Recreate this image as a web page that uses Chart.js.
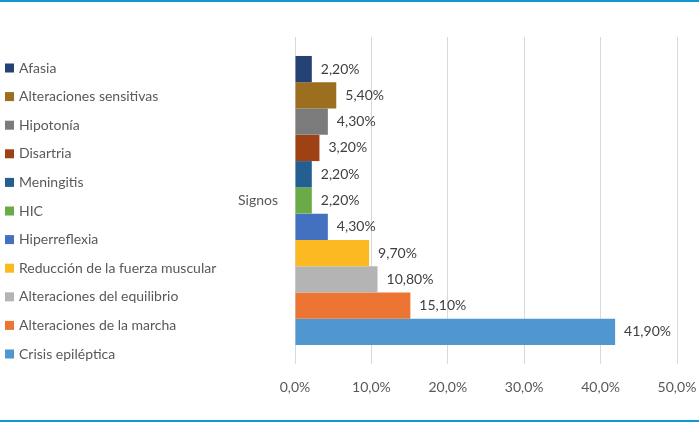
<!DOCTYPE html>
<html>
<head>
<meta charset="utf-8">
<script src="https://cdn.jsdelivr.net/npm/chart.js@4/dist/chart.umd.min.js"></script>
<style>
    html, body { margin: 0; padding: 0; background: #fff; }
    #wrap { position: relative; width: 699px; height: 423px; }
    #wrap::before, #wrap::after {
        content: ""; position: absolute; left: 0; right: 0; height: 2px; background: #1198d4;
    }
    #wrap::before { top: 0; }
    #wrap::after { top: 420px; }
</style>
</head>
<body>
<div id="wrap"><canvas id="signosChart" width="699" height="423"></canvas></div>
<script>
const CATEGORIES = ["Signos"];

const SERIES_NAMES = [
    "Afasia",
    "Alteraciones sensitivas",
    "Hipotonía",
    "Disartria",
    "Meningitis",
    "HIC",
    "Hiperreflexia",
    "Reducción de la fuerza muscular",
    "Alteraciones del equilibrio",
    "Alteraciones de la marcha",
    "Crisis epiléptica",
];

const SERIES_VALUES = [2.2, 5.4, 4.3, 3.2, 2.2, 2.2, 4.3, 9.7, 10.8, 15.1, 41.9];

const SERIES_COLORS = [
    "#244273", "#9b6f1f", "#7b7b7b", "#9e4115", "#245f91", "#6aab47",
    "#4471bf", "#fcb922", "#b4b4b4", "#ec7533", "#5096cf",
];

const X_TICKS = [0, 10, 20, 30, 40, 50];

const FONT = "Lato";
const TEXT_COLOR = "#595959";

const fmtPct = (v, d) => v.toFixed(d).replace(".", ",") + "%";

// legend drawn on the left, one row per series
const sideLegend = {
    id: "sideLegend",
    afterDraw(chart) {
        const ctx = chart.ctx;
        const sets = chart.data.datasets;
        const step = 28.6;
        const centerY = 211;
        const startY = centerY - (sets.length - 1) * step / 2;
        ctx.save();
        ctx.font = "14px " + FONT;
        ctx.textBaseline = "middle";
        ctx.textAlign = "left";
        sets.forEach((ds, i) => {
            const y = startY + i * step;
            ctx.fillStyle = ds.backgroundColor;
            ctx.fillRect(5, y - 4.5, 9, 9);
            ctx.fillStyle = TEXT_COLOR;
            ctx.fillText(ds.label, 19, y);
        });
        ctx.restore();
    }
};

const valueLabels = {
    id: "valueLabels",
    afterDatasetsDraw(chart) {
        const ctx = chart.ctx;
        ctx.save();
        ctx.font = "14px " + FONT;
        ctx.fillStyle = "#404040";
        ctx.textBaseline = "middle";
        ctx.textAlign = "left";
        chart.data.datasets.forEach((ds, i) => {
            const meta = chart.getDatasetMeta(i);
            meta.data.forEach((bar, j) => {
                ctx.fillText(fmtPct(ds.data[j], 2), bar.x + 9, bar.y);
            });
        });
        ctx.restore();
    }
};

new Chart(document.getElementById("signosChart"), {
    type: "bar",
    data: {
        labels: CATEGORIES,
        datasets: SERIES_NAMES.map((name, i) => ({
            label: name,
            data: [SERIES_VALUES[i]],
            backgroundColor: SERIES_COLORS[i],
            categoryPercentage: 0.884,
            barPercentage: 1.0,
        })),
    },
    options: {
        indexAxis: "y",
        responsive: false,
        animation: false,
        devicePixelRatio: 1,
        layout: {
            padding: { top: 37, right: 22, bottom: 0, left: 0 }
        },
        plugins: {
            legend: { display: false },
            tooltip: { enabled: false },
        },
        scales: {
            x: {
                min: 0,
                max: 50,
                afterBuildTicks: (scale) => {
                    scale.ticks = X_TICKS.map((v) => ({ value: v }));
                },
                afterFit: (scale) => {
                    scale.height = 59;
                    scale.paddingLeft = 0;
                    scale.paddingRight = 0;
                },
                grid: { color: "#d9d9d9", drawTicks: false },
                border: { display: false },
                ticks: {
                    padding: 15,
                    color: TEXT_COLOR,
                    font: { family: FONT, size: 14 },
                    callback: (v) => fmtPct(v, 1),
                },
            },
            y: {
                afterFit: (scale) => { scale.width = 295; },
                grid: { display: false, drawTicks: false },
                border: { display: false },
                ticks: {
                    padding: 17,
                    color: TEXT_COLOR,
                    font: { family: FONT, size: 14 },
                },
            },
        },
    },
    plugins: [sideLegend, valueLabels],
});
</script>
</body>
</html>
